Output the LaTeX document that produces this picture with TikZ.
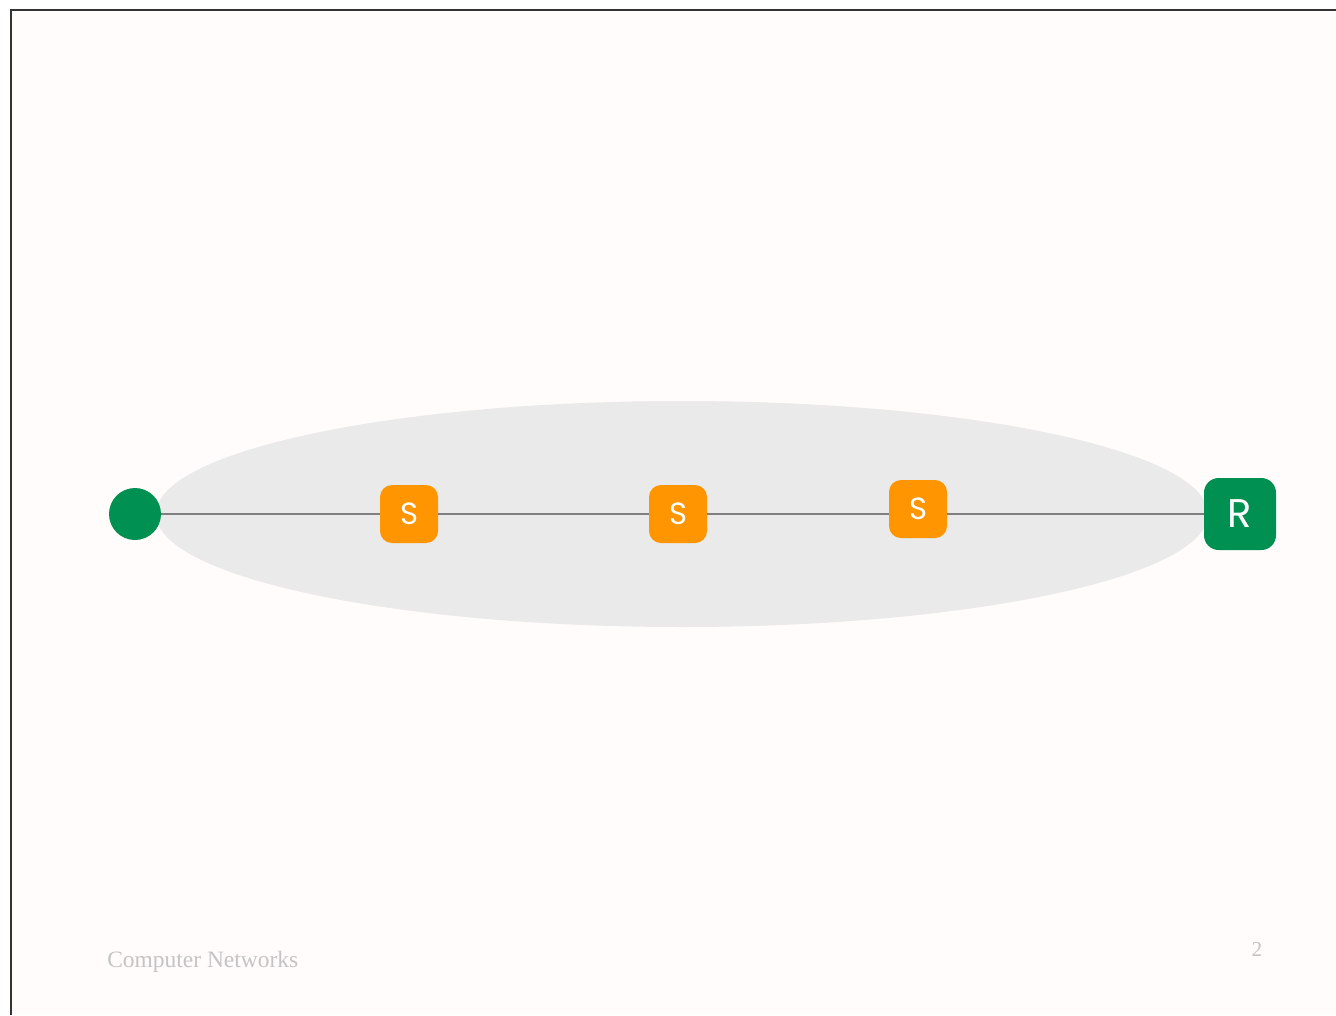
\documentclass[tikz,border=0pt]{standalone}
\usepackage{fontspec}
\setmainfont{Liberation Serif}
\newfontfamily\lblfont{Poppins}
\definecolor{slidebg}{HTML}{FFFCFB}
\definecolor{cloud}{HTML}{EAEAEA}
\definecolor{routergreen}{HTML}{009051}
\definecolor{switchorange}{HTML}{FF9500}
\definecolor{linkgray}{HTML}{7F7F7F}
\definecolor{footgray}{HTML}{C4C4C4}
\tikzset{
  px/.style={x=0.75pt,y=-0.75pt},
  switchbox/.style={draw=none,fill=switchorange,rounded corners=9pt,minimum width=43.5pt,minimum height=43.5pt,inner sep=0pt,text=white,font=\lblfont\fontsize{23}{23}\selectfont},
  routerbox/.style={draw=none,fill=routergreen,rounded corners=11pt,minimum width=54pt,minimum height=54pt,inner sep=0pt,text=white,font=\lblfont\fontsize{30}{30}\selectfont},
  hostdot/.style={draw=none,fill=routergreen,circle,minimum size=39pt,inner sep=0pt},
  link/.style={draw=linkgray,line width=1.6pt},
  foot/.style={text=footgray,inner sep=0pt}
}
\begin{document}
\begin{tikzpicture}[px]
\useasboundingbox (0,0) rectangle (1336,1015);
\fill[white] (0,0) rectangle (1336,1015);
\fill[slidebg] (11,10) rectangle (1336,1015);
\draw[black!80,line width=0.8pt] (11,1015) -- (11,10) -- (1336,10);
\fill[cloud] (682,514) ellipse [x radius=526, y radius=113];
\node[hostdot] (h) at (135,514) {};
\node[switchbox] (s1) at (409,514) {S};
\node[switchbox] (s2) at (678,514) {S};
\node[switchbox] (s3) at (918,509) {S};
\node[routerbox] (r) at (1240,514) {R};
\draw[link] (h.east) -- (s1.west);
\draw[link] (s1.east) -- (s2.west);
\draw[link] (s2.east) -- (s2.east -| s3.west);
\draw[link] (s3.east |- r.west) -- (r.west);
\node[foot,anchor=base west,font=\fontsize{17.6}{17.6}\selectfont] (ft) at (107,967) {Computer Networks};
\node[foot,anchor=base,font=\fontsize{16}{16}\selectfont] (pg) at (1257,956) {2};
\end{tikzpicture}
\end{document}
